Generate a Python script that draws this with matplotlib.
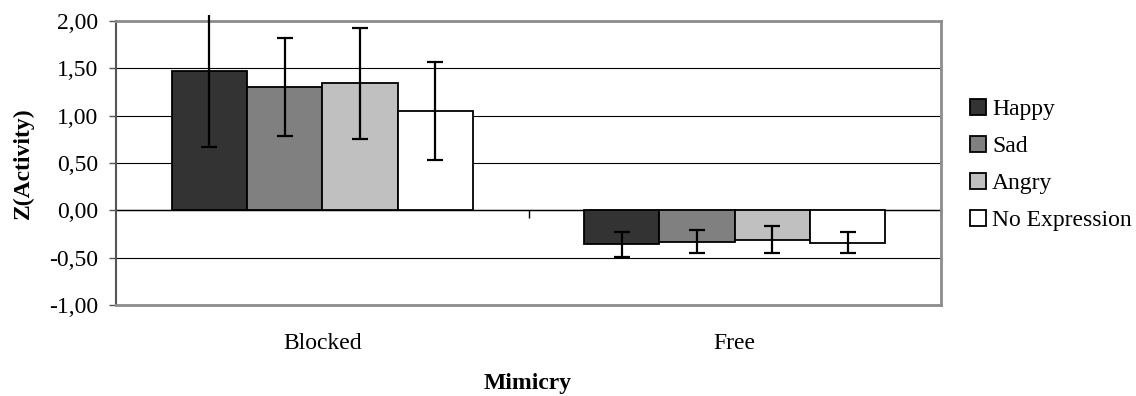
import numpy as np
import matplotlib
matplotlib.use("Agg")
import matplotlib.pyplot as plt
from matplotlib.ticker import FuncFormatter
from matplotlib.transforms import Bbox, TransformedBbox

plt.rcParams['font.family'] = ['Liberation Serif', 'DejaVu Serif']

categories = ['Blocked', 'Free']
series = ['Happy', 'Sad', 'Angry', 'No Expression']

happy = [1.47, -0.36]
sad = [1.30, -0.33]
angry = [1.34, -0.31]
no_expr = [1.05, -0.34]

happy_err = [0.80, 0.13]
sad_err = [0.52, 0.12]
angry_err = [0.59, 0.14]
no_expr_err = [0.52, 0.11]

yticks = [-1.0, -0.5, 0.0, 0.5, 1.0, 1.5, 2.0]

values = [happy, sad, angry, no_expr]
errors = [happy_err, sad_err, angry_err, no_expr_err]
colors = ['#333333', '#808080', '#c0c0c0', '#ffffff']

W, H = 1136, 396
fig = plt.figure(figsize=(W / 100, H / 100), dpi=100)
ax = fig.add_axes([116 / W, 91 / H, 825 / W, 284 / H])

x = np.arange(len(categories))
w = 0.1826
clipbox = TransformedBbox(Bbox([[0, 0], [1, 1 - 15 / H]]), fig.transFigure)

for i, (name, vals, err, col) in enumerate(zip(series, values, errors, colors)):
    pos = x + (i - 1.5) * w
    ax.bar(pos, vals, w, color=col, edgecolor='black', linewidth=1.3,
           label=name, zorder=3)
    eb = ax.errorbar(pos, vals, yerr=err, fmt='none', ecolor='black',
                     elinewidth=1.6, capsize=5.8, capthick=1.6, zorder=4)
    for art in list(eb.lines[1]) + list(eb.lines[2]):
        art.set_clip_box(clipbox)

ax.set_xlim(-0.5, 1.5)
ax.set_ylim(-1, 2)
ax.set_yticks(yticks)
ax.yaxis.set_major_formatter(FuncFormatter(lambda v, p: f"{v:.2f}".replace('.', ',')))
ax.yaxis.grid(True, color='black', linewidth=0.8)
ax.set_axisbelow(True)

for s in ['top', 'right', 'bottom']:
    ax.spines[s].set_color('#8c8c8c')
    ax.spines[s].set_linewidth(2)
ax.spines['left'].set_color('#555555')
ax.spines['left'].set_linewidth(1.5)

ax.tick_params(axis='y', direction='out', length=5, width=1, color='#555555',
               labelsize=17, pad=8)
ax.set_xticks(x)
ax.set_xticklabels(categories)
ax.tick_params(axis='x', length=0, labelsize=17, pad=20)

# category axis crossing at zero with ticks between groups
sec = ax.secondary_xaxis(1 / 3)
sec.set_alignment('bottom')
sec.set_xticks([0.5, 1.5])
sec.tick_params(axis='x', direction='out', length=6, width=1, color='black',
                labelbottom=False, labeltop=False)
sec.spines['bottom'].set_color('black')
sec.spines['bottom'].set_linewidth(1)

fig.text(528 / W, 1 - 384 / H, 'Mimicry', ha='center', va='center',
         fontsize=17, fontweight='bold')
fig.text(23 / W, 1 - 163 / H, 'Z(Activity)', ha='center', va='center',
         rotation=90, fontsize=17, fontweight='bold')

fig.legend(loc='center left', bbox_to_anchor=(970 / W, 1 - 165 / H),
           frameon=False, fontsize=17, handlelength=0.68, handleheight=0.68,
           handletextpad=0.25, labelspacing=0.66, borderpad=0, borderaxespad=0)

fig.savefig('out.png', dpi=100)
